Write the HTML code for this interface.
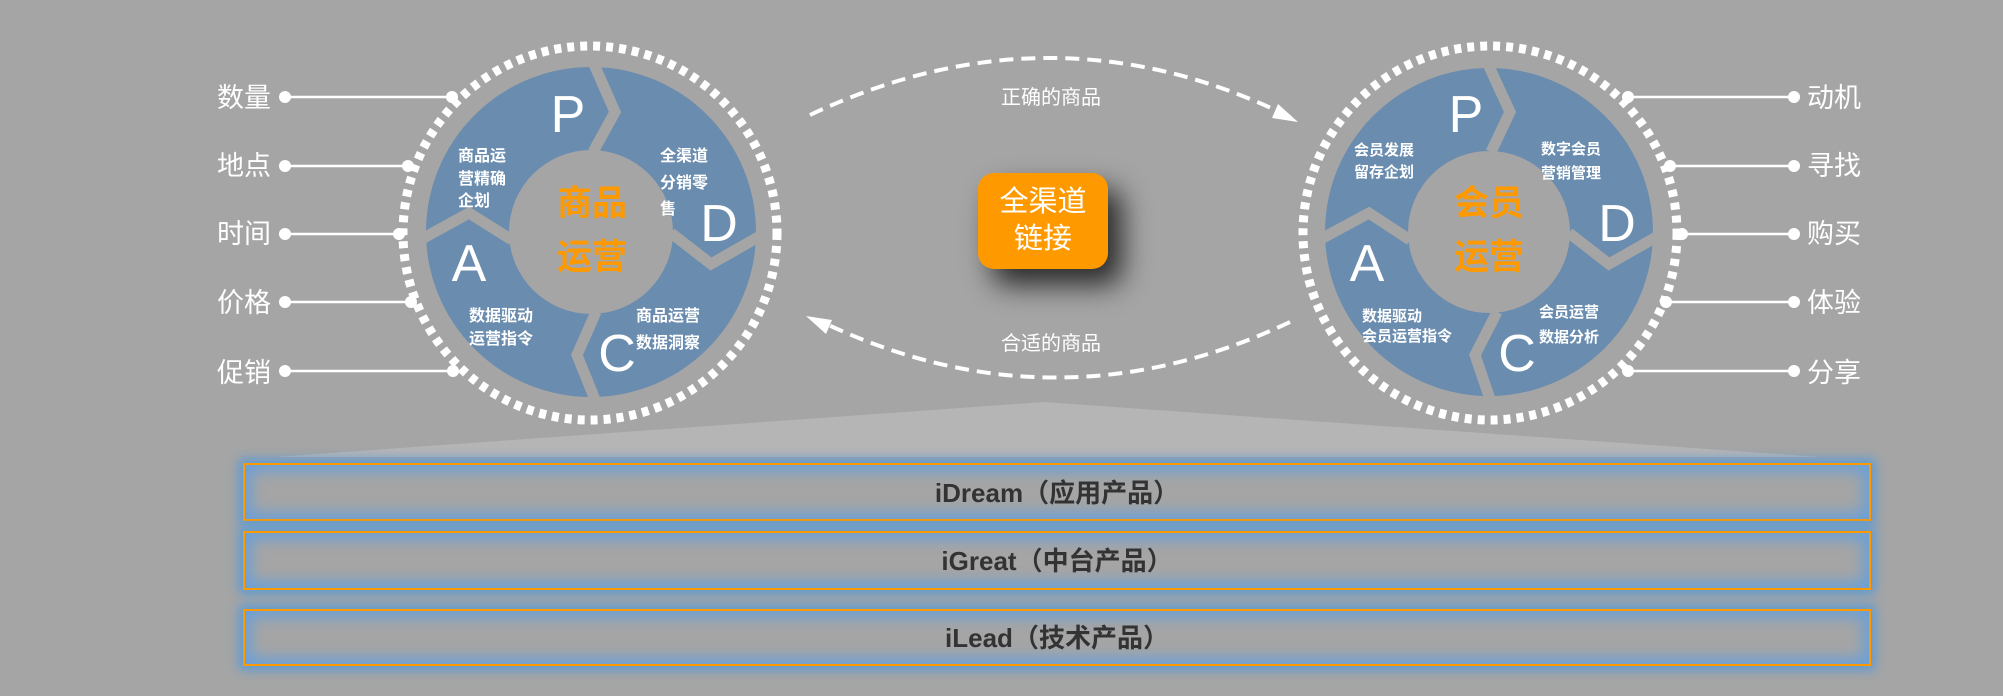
<!DOCTYPE html>
<html><head><meta charset="utf-8"><style>
html,body{margin:0;padding:0;}
body{width:2003px;height:696px;background:#a5a5a5;position:relative;overflow:hidden;font-family:"Liberation Sans","Noto Sans CJK SC",sans-serif;}
.box{position:absolute;left:978px;top:173px;width:130px;height:96px;background:#ff9900;border-radius:16px;box-shadow:14px 16px 28px rgba(0,0,0,0.75);color:#fff;font-size:29px;line-height:37px;text-align:center;padding-top:11px;box-sizing:border-box;}
.bar{position:absolute;left:243px;width:1628px;border:2px solid #ff9900;box-sizing:border-box;background:#a5a5a5;box-shadow:0 0 10px 4px #5b9bd5, inset 0 0 14px 6px #6aa0d8;color:#333;font-weight:bold;font-size:26px;text-align:center;}
svg{position:absolute;left:0;top:0;}
</style></head><body>
<svg width="2003" height="696" viewBox="0 0 2003 696" font-family="Liberation Sans, Noto Sans CJK SC, sans-serif">
<polygon points="1044,402 1820,457 275,457" fill="#b5b5b5"/>
<path d="M810,115 Q1053,0 1290,117" fill="none" stroke="#fff" stroke-width="4" stroke-dasharray="14 8"/>
<polygon points="1298,122 1278,104 1272,118" fill="#fff"/>
<path d="M1290,322 Q1053,434 818,320" fill="none" stroke="#fff" stroke-width="4" stroke-dasharray="14 8"/>
<polygon points="806,316 826,334 832,320" fill="#fff"/>
<text x="1051" y="104" font-size="20" fill="#fff" text-anchor="middle">正确的商品</text>
<text x="1051" y="350" font-size="20" fill="#fff" text-anchor="middle">合适的商品</text>

<g>
<circle cx="590" cy="233" r="187" fill="none" stroke="#fff" stroke-width="9" stroke-dasharray="7 6"/>
<circle cx="591" cy="232" r="165" fill="#6a8caf"/>
<circle cx="591" cy="232" r="82" fill="#a5a5a5"/>
<g fill="none" stroke="#a5a5a5" stroke-width="11" stroke-linejoin="miter">
<polyline points="593,62 615,112 593,152"/>
<polyline points="671,233 711,264 760,236"/>
<polyline points="596,312 577,355 596,402"/>
<polyline points="420,240 469,213 512,240"/>
</g>
<g fill="#fff" font-size="52">
<text x="568" y="132" text-anchor="middle">P</text>
<text x="719" y="241" text-anchor="middle">D</text>
<text x="469" y="281" text-anchor="middle">A</text>
<text x="617" y="371" text-anchor="middle">C</text>
</g>
<g fill="#ff9900" font-size="35" font-weight="bold" text-anchor="middle">
<text x="592" y="215">商品</text>
<text x="592" y="269">运营</text>
</g>
<g fill="#fff" font-size="16" font-weight="bold">
<text x="458" y="161">商品运</text><text x="458" y="184">营精确</text><text x="458" y="206">企划</text>
<text x="660" y="161">全渠道</text><text x="660" y="188">分销零</text><text x="660" y="214">售</text>
<text x="469" y="321">数据驱动</text><text x="469" y="344">运营指令</text>
<text x="636" y="321">商品运营</text><text x="636" y="348">数据洞察</text>
</g>
</g>

<g>
<circle cx="1490" cy="233" r="187" fill="none" stroke="#fff" stroke-width="9" stroke-dasharray="7 6"/>
<circle cx="1489" cy="232" r="164" fill="#6a8caf"/>
<circle cx="1489" cy="232" r="81" fill="#a5a5a5"/>
<g fill="none" stroke="#a5a5a5" stroke-width="11">
<polyline points="1487,62 1510,112 1491,152"/>
<polyline points="1569,233 1609,264 1658,236"/>
<polyline points="1497,312 1475,355 1491,402"/>
<polyline points="1319,240 1369,213 1410,240"/>
</g>
<g fill="#fff" font-size="52">
<text x="1466" y="132" text-anchor="middle">P</text>
<text x="1617" y="241" text-anchor="middle">D</text>
<text x="1367" y="281" text-anchor="middle">A</text>
<text x="1517" y="371" text-anchor="middle">C</text>
</g>
<g fill="#ff9900" font-size="35" font-weight="bold" text-anchor="middle">
<text x="1489" y="215">会员</text>
<text x="1489" y="269">运营</text>
</g>
<g fill="#fff" font-size="15" font-weight="bold">
<text x="1354" y="155">会员发展</text><text x="1354" y="177">留存企划</text>
<text x="1541" y="154">数字会员</text><text x="1541" y="178">营销管理</text>
<text x="1362" y="321">数据驱动</text><text x="1362" y="341">会员运营指令</text>
<text x="1539" y="317">会员运营</text><text x="1539" y="342">数据分析</text>
</g>
</g>

<g fill="#fff" font-size="27">
<text x="217" y="107">数量</text><text x="217" y="175">地点</text><text x="217" y="243">时间</text><text x="217" y="312">价格</text><text x="217" y="382">促销</text>
<text x="1807" y="107">动机</text><text x="1807" y="175">寻找</text><text x="1807" y="243">购买</text><text x="1807" y="312">体验</text><text x="1807" y="382">分享</text>
</g>
<g stroke="#fff" stroke-width="2.5">
<line x1="285" y1="97" x2="452" y2="97"/><line x1="285" y1="166" x2="408" y2="166"/><line x1="285" y1="234" x2="399" y2="234"/><line x1="285" y1="302" x2="411" y2="302"/><line x1="285" y1="371" x2="453" y2="371"/>
<line x1="1628" y1="97" x2="1794" y2="97"/><line x1="1670" y1="166" x2="1794" y2="166"/><line x1="1682" y1="234" x2="1794" y2="234"/><line x1="1666" y1="302" x2="1794" y2="302"/><line x1="1628" y1="371" x2="1794" y2="371"/>
</g>
<g fill="#fff">
<circle cx="285" cy="97" r="6"/><circle cx="452" cy="97" r="6"/>
<circle cx="285" cy="166" r="6"/><circle cx="408" cy="166" r="6"/>
<circle cx="285" cy="234" r="6"/><circle cx="399" cy="234" r="6"/>
<circle cx="285" cy="302" r="6"/><circle cx="411" cy="302" r="6"/>
<circle cx="285" cy="371" r="6"/><circle cx="453" cy="371" r="6"/>
<circle cx="1628" cy="97" r="6"/><circle cx="1794" cy="97" r="6"/>
<circle cx="1670" cy="166" r="6"/><circle cx="1794" cy="166" r="6"/>
<circle cx="1682" cy="234" r="6"/><circle cx="1794" cy="234" r="6"/>
<circle cx="1666" cy="302" r="6"/><circle cx="1794" cy="302" r="6"/>
<circle cx="1628" cy="371" r="6"/><circle cx="1794" cy="371" r="6"/>
</g>
</svg>
<div class="box">全渠道<br>链接</div>
<div class="bar" style="top:463px;height:58px;line-height:56px;">iDream（应用产品）</div>
<div class="bar" style="top:531px;height:59px;line-height:57px;">iGreat（中台产品）</div>
<div class="bar" style="top:609px;height:57px;line-height:55px;">iLead（技术产品）</div>
</body></html>
